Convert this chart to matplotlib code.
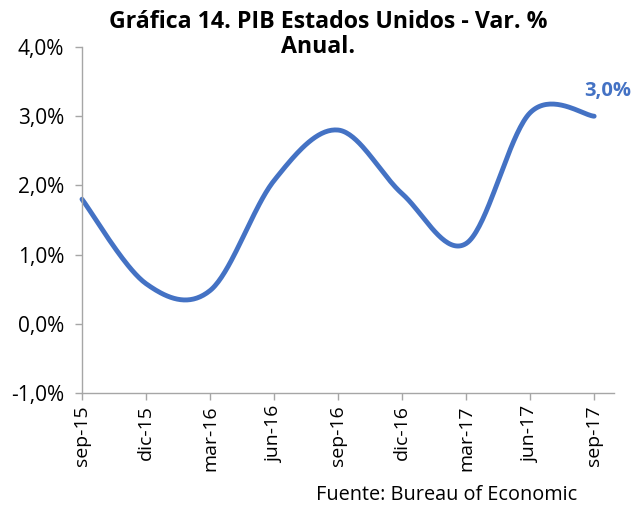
import numpy as np
import matplotlib
matplotlib.use("Agg")
import matplotlib.pyplot as plt
import matplotlib.transforms as mtransforms
from matplotlib.ticker import FuncFormatter

categories = ["sep-15", "dic-15", "mar-16", "jun-16", "sep-16", "dic-16", "mar-17", "jun-17", "sep-17"]
values = [1.80, 0.58, 0.48, 2.07, 2.80, 1.88, 1.16, 3.05, 3.00]
yticks = [-1.0, 0.0, 1.0, 2.0, 3.0, 4.0]
title_line1 = "Gráfica 14. PIB Estados Unidos - Var. %"
title_line2 = "Anual."
source = "Fuente: Bureau of Economic"
last_label = "3,0%"

plt.rcParams['font.family'] = ['Open Sans', 'DejaVu Sans']

W, H = 633, 508
fig = plt.figure(figsize=(W / 100, H / 100), dpi=100)
ax = fig.add_axes([82 / W, 1 - 393 / H, (614 - 82) / W, (393 - 47) / H])

# Catmull-Rom smoothing (Excel-like smoothed line)
x = np.arange(len(values), dtype=float)
y = np.array(values, dtype=float)
P = np.column_stack([x, y])
Pext = np.vstack([P[0], P, P[-1]])
xs, ys = [], []
t = np.linspace(0, 1, 40)
for i in range(len(P) - 1):
    p0, p1, p2, p3 = Pext[i], Pext[i + 1], Pext[i + 2], Pext[i + 3]
    c1 = p1 + (p2 - p0) / 6
    c2 = p2 - (p3 - p1) / 6
    b = ((1 - t) ** 3)[:, None] * p1 + (3 * (1 - t) ** 2 * t)[:, None] * c1 \
        + (3 * (1 - t) * t ** 2)[:, None] * c2 + (t ** 3)[:, None] * p2
    xs.append(b[:, 0])
    ys.append(b[:, 1])
xs = np.concatenate(xs)
ys = np.concatenate(ys)

line_color = "#4472C4"
ax.plot(xs, ys, color=line_color, lw=3.5, solid_capstyle="round", clip_on=False)

ax.set_xlim(0, 8.31)
ax.set_ylim(-1, 4)
ax.set_yticks(yticks)
ax.yaxis.set_major_formatter(FuncFormatter(lambda v, p: f"{v:.1f}%".replace(".", ",")))
ax.set_xticks(x)
ax.set_xticklabels(categories, rotation=90, va="top", ha="center")
offset = mtransforms.ScaledTranslation(11 / 100, 0, fig.dpi_scale_trans)
for lab in ax.get_xticklabels():
    lab.set_transform(lab.get_transform() + offset)

for s in ["top", "right"]:
    ax.spines[s].set_visible(False)
for s in ["left", "bottom"]:
    ax.spines[s].set_color("#A6A6A6")
    ax.spines[s].set_linewidth(1.0)
ax.tick_params(axis="both", colors="#A6A6A6", labelcolor="#000000", length=5, width=1.0)
ax.tick_params(axis="y", pad=8, labelsize=15)
ax.tick_params(axis="x", pad=4, labelsize=14)

ax.annotate(last_label, xy=(x[-1], y[-1]), xytext=(10, 18), textcoords="offset points",
            ha="center", va="center", color="#4472C4", fontsize=14.5, fontweight="bold")

fig.text(328 / W, 1 - 22 / H, title_line1, ha="center", va="center", fontsize=16.7, fontweight="bold")
fig.text(318 / W, 1 - 47 / H, title_line2, ha="center", va="center", fontsize=16.7, fontweight="bold")
fig.text(447 / W, 1 - 495 / H, source, ha="center", va="center", fontsize=14.3)

fig.savefig("out.png", dpi=100)
